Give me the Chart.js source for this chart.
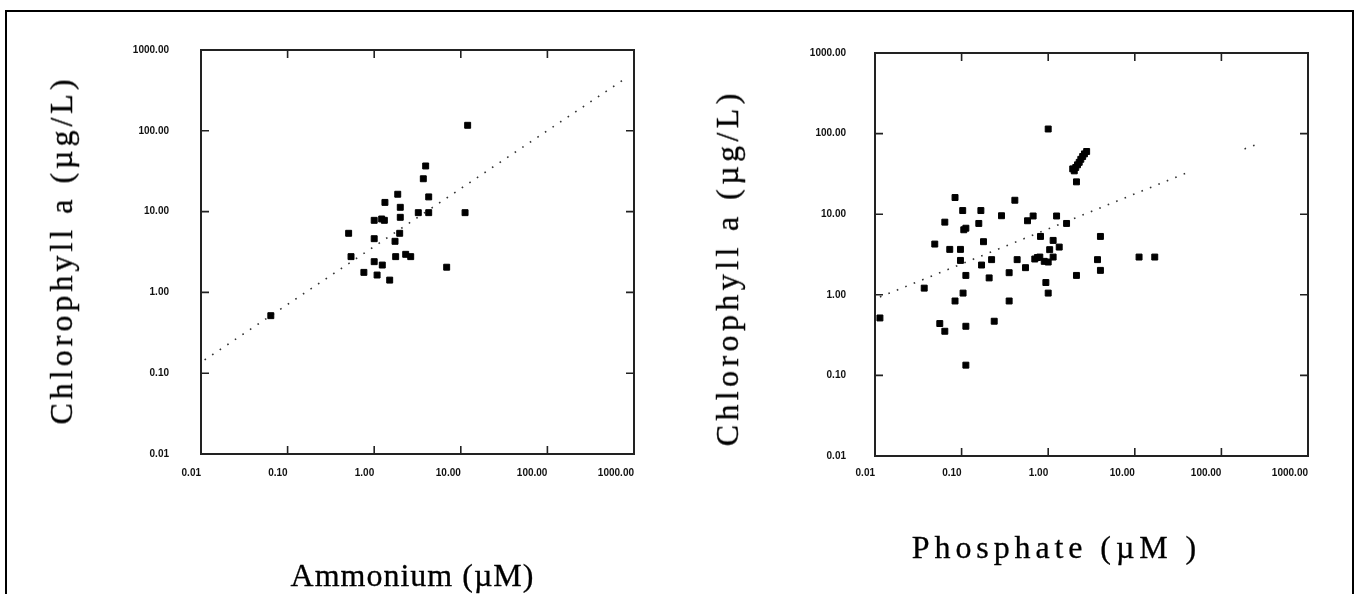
<!DOCTYPE html>
<html><head><meta charset="utf-8">
<script src="https://cdn.jsdelivr.net/npm/chart.js@4"></script>
<style>
body{margin:0;background:#fff;width:1354px;height:594px;overflow:hidden;position:relative;}
#frame{position:absolute;left:5px;top:10px;width:1349px;height:600px;border:2px solid #000;box-sizing:border-box;}
.cv{position:absolute;top:0;}
.ttl{position:absolute;white-space:nowrap;color:#000;font-family:"Liberation Serif","Times New Roman",serif;line-height:1;-webkit-text-stroke:0.3px #000;}
</style></head>
<body>
<div id="frame"></div>
<canvas id="c1" class="cv" width="677" height="594" style="left:0"></canvas>
<canvas id="c2" class="cv" width="677" height="594" style="left:677px"></canvas>
<div id="t1" class="ttl">Chlorophyll a (µg/L)</div>
<div id="t2" class="ttl">Ammonium (µM)</div>
<div id="t3" class="ttl">Chlorophyll a (µg/L)</div>
<div id="t4" class="ttl">Phosphate (µM )</div>
<script>
// ---- data ----
const tickValues = [0.01, 0.1, 1, 10, 100, 1000];
const xTickLabels = ["0.01", "0.10", "1.00", "10.00", "100.00", "1000.00"];
const yTickLabels = ["0.01", "0.10", "1.00", "10.00", "100.00", "1000.00"];

const ammoniumX = [0.064,0.507,0.54,0.76,1.0,1.0,1.0,1.08,1.22,1.31,1.33,1.24,1.51,1.87,2.0,2.0,1.97,1.74,1.77,2.31,2.64,3.23,4.26,3.69,3.93,4.26,6.87,11.2,12.0];
const ammoniumChl = [0.515,5.39,2.77,1.77,7.8,4.62,2.40,1.64,8.1,7.8,13.0,2.18,1.42,16.4,11.3,8.5,5.39,4.29,2.77,2.96,2.77,9.7,9.7,25.5,36.7,15.2,2.05,9.7,117];
const ammoniumTrendX = [0.011, 800];
const ammoniumTrendY = [0.146, 446];

const phosphateX = [1.0,1.92,2.0,2.08,2.18,2.28,2.38,2.5,2.62,2.78,2.12,0.084,0.412,0.103,0.167,0.289,0.064,0.158,0.106,0.112,0.577,0.67,1.25,1.63,0.049,0.179,0.073,0.097,0.097,0.222,0.170,0.112,0.208,0.438,0.547,0.354,0.815,0.70,0.80,1.0,1.14,1.04,1.34,1.14,0.94,1.0,0.354,0.104,0.084,0.037,0.0114,0.056,0.064,0.112,0.238,0.112,4.01,3.71,4.01,2.12,11.2,17.0,0.75,0.9];
const phosphateChl = [114,36.5,34.5,38,41,44,48,52,56,60,25.2,16.1,14.9,11.1,11.1,9.57,7.97,7.68,6.41,6.7,8.29,9.5,9.5,7.68,4.26,4.56,3.66,3.66,2.67,2.73,2.34,1.74,1.62,2.73,2.17,1.88,5.3,2.78,2.94,2.55,4.73,3.63,3.91,2.94,1.42,1.05,0.838,1.05,0.838,1.21,0.516,0.44,0.353,0.407,0.47,0.134,5.3,2.73,2.01,1.74,2.94,2.94,2.9,2.6];
const phosphateTrendX = [0.0114, 41, 100, 185, 264];
const phosphateTrendY = [0.94, 33, null, 64.6, 74.5];

// ---- drawing ----
const framePlugin = {
  id: 'frameTicks',
  afterDraw(chart) {
    const {ctx, chartArea: a, scales: {x, y}} = chart;
    ctx.save();
    ctx.strokeStyle = '#222';
    ctx.lineWidth = 2;
    ctx.strokeRect(a.left, a.top, a.right - a.left, a.bottom - a.top);
    ctx.lineWidth = 1.6;
    const len = 8;
    tickValues.slice(1, -1).forEach(v => {
      const px = x.getPixelForValue(v);
      const py = y.getPixelForValue(v);
      ctx.beginPath();
      ctx.moveTo(px, a.bottom); ctx.lineTo(px, a.bottom - len);
      ctx.moveTo(px, a.top); ctx.lineTo(px, a.top + len);
      ctx.moveTo(a.left, py); ctx.lineTo(a.left + len, py);
      ctx.moveTo(a.right, py); ctx.lineTo(a.right - len, py);
      ctx.stroke();
    });
    ctx.restore();
  }
};

function pairs(xs, ys) { return xs.map((v, i) => ({x: v, y: ys[i]})); }

function makeChart(id, xs, ys, tx, ty, o) {
  const tickFont = {family: '"Liberation Sans", Arial, sans-serif', size: 10, weight: 'bold'};
  new Chart(document.getElementById(id), {
    type: 'scatter',
    data: {
      datasets: [
        {data: pairs(xs, ys), pointStyle: 'rect', pointRadius: 4.2, pointBackgroundColor: '#000', pointBorderColor: '#000', pointBorderWidth: 1, showLine: false},
        {data: pairs(tx, ty), showLine: true, spanGaps: false, pointRadius: 0, borderColor: '#333', borderWidth: 1.6, borderDash: [1.6, 7.5], borderCapStyle: 'butt'}
      ]
    },
    options: {
      responsive: false, animation: false, devicePixelRatio: 1,
      layout: {padding: {left: 0, top: o.top, right: o.right, bottom: o.bottom}},
      plugins: {legend: {display: false}, tooltip: {enabled: false}},
      scales: {
        x: {
          type: 'logarithmic', min: 0.01, max: 1000,
          afterBuildTicks: s => { s.ticks = tickValues.map(v => ({value: v})); },
          afterFit: s => { s.height = 40; },
          grid: {display: false, drawTicks: false},
          border: {display: false},
          ticks: {autoSkip: false, maxRotation: 0, align: 'end', padding: o.xpad, color: '#111', font: tickFont,
                  callback: (v, i) => xTickLabels[i]}
        },
        y: {
          type: 'logarithmic', min: 0.01, max: 1000,
          afterBuildTicks: s => { s.ticks = tickValues.map(v => ({value: v})); },
          afterFit: s => { s.width = o.yw; },
          grid: {display: false, drawTicks: false},
          border: {display: false},
          ticks: {autoSkip: false, padding: o.ypad, color: '#111', font: tickFont,
                  callback: (v, i) => yTickLabels[i]}
        }
      }
    },
    plugins: [framePlugin]
  });
}

makeChart('c1', ammoniumX, ammoniumChl, ammoniumTrendX, ammoniumTrendY,
  {yw: 201, top: 50, right: 43, bottom: 100, xpad: 13, ypad: 32});
makeChart('c2', phosphateX, phosphateChl, phosphateTrendX, phosphateTrendY,
  {yw: 198, top: 53, right: 46, bottom: 98, xpad: 11, ypad: 29});

// axis titles (real text)
function place(id, fs, ls, cx, cy, rot) {
  const el = document.getElementById(id);
  el.style.fontSize = fs + 'px';
  el.style.letterSpacing = ls + 'px';
  el.style.paddingLeft = ls + 'px';
  el.style.left = cx + 'px';
  el.style.top = cy + 'px';
  el.style.transform = 'translate(-50%,-50%)' + (rot ? ' rotate(-90deg)' : '');
}
place('t1', 32, 4, 61, 252, true);
place('t3', 32, 4.4, 727, 270, true);
place('t2', 32, 1, 412, 575, false);
place('t4', 32, 4.9, 1054, 547, false);
</script>
</body></html>
